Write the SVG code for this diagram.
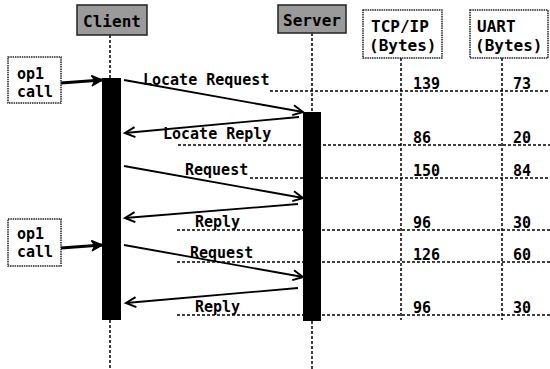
<svg xmlns="http://www.w3.org/2000/svg" width="550" height="369" viewBox="0 0 550 369">
<style>
text{font-family:"DejaVu Sans Mono","Liberation Mono",monospace;font-weight:bold;font-size:15px;fill:#000}
.h{font-size:16px}
.hdr{fill:#9a9a9a;stroke:#222;stroke-width:1.5}
.box{fill:#fff;stroke:#222;stroke-width:1.5;stroke-dasharray:1.5 0.8}
.life{stroke:#000;stroke-width:1.5;stroke-dasharray:3 2;fill:none}
.grid{stroke:#000;stroke-width:1.5;stroke-dasharray:3 2;fill:none}
.bar{fill:#000}
.msg{stroke:#000;stroke-width:1.8;fill:none;marker-end:url(#arr)}
.call{stroke:#000;stroke-width:3.2;fill:none;marker-end:url(#arrB)}
</style>
<defs>
<marker id="arr" markerUnits="userSpaceOnUse" markerWidth="14" markerHeight="14" refX="12" refY="6" orient="auto" viewBox="0 0 14 12">
<path d="M2,1 L12,6 L2,11" fill="none" stroke="#000" stroke-width="2"/>
</marker>
<marker id="arrB" markerUnits="userSpaceOnUse" markerWidth="14" markerHeight="14" refX="12" refY="6" orient="auto" viewBox="0 0 14 12">
<path d="M2,1 L12,6 L2,11 L5,6 Z" fill="#000" stroke="#000" stroke-width="1.5" stroke-linejoin="round"/>
</marker>
</defs>

<g id="connectors">
<line class="life" x1="110" y1="35" x2="110" y2="78"/>
<line class="life" x1="110" y1="320" x2="110" y2="369"/>
<line class="life" x1="312" y1="33" x2="312" y2="112"/>
<line class="life" x1="312" y1="321" x2="312" y2="369"/>
<line class="life" x1="401" y1="58" x2="401" y2="320"/>
<line class="life" x1="502" y1="58" x2="502" y2="320"/>
<line class="grid" x1="270" y1="91" x2="550" y2="91"/>
<line class="grid" x1="178" y1="145" x2="550" y2="145"/>
<line class="grid" x1="250" y1="178" x2="550" y2="178"/>
<line class="grid" x1="177" y1="230" x2="550" y2="230"/>
<line class="grid" x1="177" y1="262" x2="550" y2="262"/>
<line class="grid" x1="177" y1="315" x2="550" y2="315"/>
<line class="call" x1="61" y1="83" x2="102" y2="80"/>
<line class="call" x1="61" y1="248" x2="102" y2="245"/>
<line class="msg" x1="124" y1="80" x2="303" y2="112"/>
<line class="msg" x1="299" y1="117" x2="125" y2="133"/>
<line class="msg" x1="124" y1="166" x2="303" y2="198"/>
<line class="msg" x1="298" y1="204" x2="125" y2="218"/>
<line class="msg" x1="124" y1="245" x2="303" y2="277"/>
<line class="msg" x1="298" y1="288" x2="126" y2="303"/>
</g>

<g id="client">
<rect class="hdr" x="77" y="5" width="70" height="30"/>
<text class="h" x="112" y="27" text-anchor="middle">Client</text>
<rect class="bar" x="102" y="78" width="19" height="242"/>
</g>
<g id="server">
<rect class="hdr" x="278" y="5" width="68" height="28"/>
<text class="h" x="312" y="26" text-anchor="middle">Server</text>
<rect class="bar" x="303" y="112" width="18" height="209"/>
</g>
<g id="tcpip">
<rect class="box" x="363" y="10" width="79" height="48"/>
<text class="h" x="371" y="32">TCP/IP</text>
<text class="h" x="369" y="51">(Bytes)</text>
</g>
<g id="uart">
<rect class="box" x="470" y="10" width="78" height="48"/>
<text class="h" x="477" y="32">UART</text>
<text class="h" x="475" y="51">(Bytes)</text>
</g>
<g id="op1call1">
<rect class="box" x="8" y="57" width="53" height="46"/>
<text x="17" y="79">op1</text>
<text x="17" y="97">call</text>
</g>
<g id="op1call2">
<rect class="box" x="8" y="219" width="53" height="47"/>
<text x="17" y="239">op1</text>
<text x="17" y="257">call</text>
</g>
<g id="labels">
<text x="143" y="85">Locate Request</text>
<text x="163" y="139">Locate Reply</text>
<text x="185" y="175">Request</text>
<text x="195" y="227">Reply</text>
<text x="190" y="258">Request</text>
<text x="195" y="312">Reply</text>
<text x="413" y="89">139</text>
<text x="513" y="89">73</text>
<text x="413" y="143">86</text>
<text x="513" y="143">20</text>
<text x="413" y="176">150</text>
<text x="513" y="176">84</text>
<text x="413" y="228">96</text>
<text x="513" y="228">30</text>
<text x="413" y="260">126</text>
<text x="513" y="260">60</text>
<text x="413" y="313">96</text>
<text x="513" y="313">30</text>
</g>
</svg>
